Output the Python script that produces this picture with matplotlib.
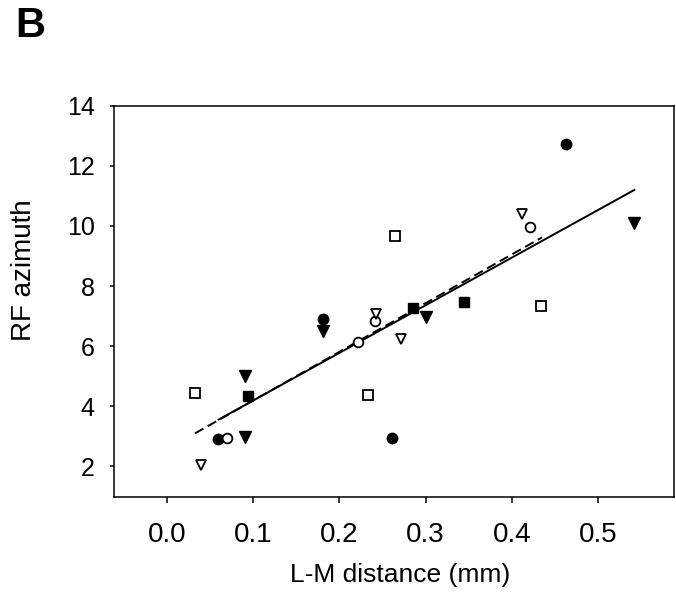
import matplotlib
matplotlib.use('agg')
import matplotlib.pyplot as plt

plt.rcParams['font.family'] = ['Liberation Sans', 'DejaVu Sans']

# points, one list pair per symbol
filled_circle_x = [0.0595, 0.181, 0.2607, 0.4625]
filled_circle_y = [2.89, 6.90, 2.94, 12.72]
open_circle_x = [0.070, 0.221, 0.241, 0.421]
open_circle_y = [2.94, 6.14, 6.83, 9.98]
filled_tri_x = [0.0905, 0.0905, 0.181, 0.301, 0.542]
filled_tri_y = [5.00, 2.98, 6.51, 6.98, 10.11]
open_tri_x = [0.0394, 0.242, 0.2715, 0.412]
open_tri_y = [2.03, 7.06, 6.22, 10.39]
filled_sq_x = [0.0936, 0.285, 0.3445]
filled_sq_y = [4.33, 7.28, 7.47]
open_sq_x = [0.033, 0.2335, 0.265, 0.434]
open_sq_y = [4.42, 4.38, 9.67, 7.34]

# regression lines (end points)
solid_x = [0.060, 0.542]
solid_y = [3.55, 11.20]
dashed_x = [0.0325, 0.435]
dashed_y = [3.09, 9.62]

xticks = [0.0, 0.1, 0.2, 0.3, 0.4, 0.5]
yticks = [2, 4, 6, 8, 10, 12, 14]

fig = plt.figure(figsize=(6.76, 5.95), dpi=100)
ax = fig.add_axes([0.169, 0.164, 0.828, 0.658])

ax.plot(solid_x, solid_y, color='black', lw=1.4, zorder=2)
ax.plot(dashed_x, dashed_y, color='black', lw=1.4, dashes=(5, 2.5), zorder=2)

ms = 7.5
ax.plot(filled_circle_x, filled_circle_y, 'o', ms=ms, mfc='black', mec='black', zorder=3)
ax.plot(open_circle_x, open_circle_y, 'o', ms=ms - 0.5, mfc='white', mec='black', mew=1.3, zorder=3)
ax.plot(filled_tri_x, filled_tri_y, 'v', ms=ms + 0.5, mfc='black', mec='black', zorder=3)
ax.plot(open_tri_x, open_tri_y, 'v', ms=ms, mfc='white', mec='black', mew=1.3, zorder=3)
ax.plot(filled_sq_x, filled_sq_y, 's', ms=ms - 1, mfc='black', mec='black', zorder=3)
ax.plot(open_sq_x, open_sq_y, 's', ms=ms - 1, mfc='white', mec='black', mew=1.3, zorder=3)

ax.set_xlim(-0.0611, 0.588)
ax.set_ylim(0.957, 14)
ax.set_xticks(xticks)
ax.set_xticklabels(['%.1f' % t for t in xticks])
ax.set_yticks(yticks)

for s in ax.spines.values():
    s.set_linewidth(1.1)
ax.tick_params(axis='x', direction='out', length=4, width=1.1, pad=14, labelsize=20)
ax.tick_params(axis='y', direction='out', length=3, width=1.1, pad=11, labelsize=18)

fig.text(400 / 676, 1 - 575 / 595, 'L-M distance (mm)', ha='center', va='center', fontsize=19)
fig.text(24 / 676, 1 - 270 / 595, 'RF azimuth', ha='center', va='center', rotation=90, fontsize=20)
fig.text(15 / 676, 1 - 26 / 595, 'B', ha='left', va='center', fontsize=30, fontweight='bold')

fig.savefig('out.png', dpi=100)
